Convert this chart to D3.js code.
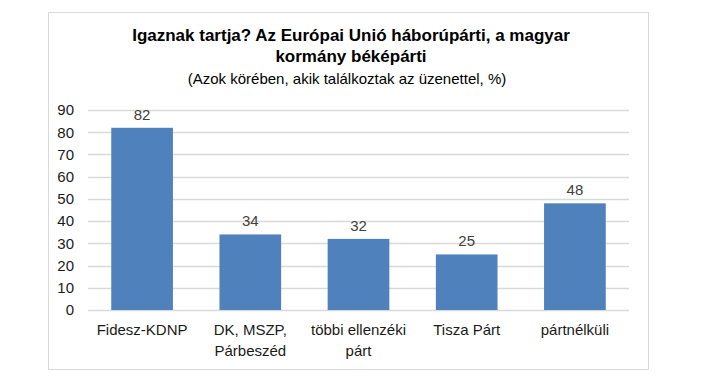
<!DOCTYPE html>
<html>
<head>
<meta charset="utf-8">
<script src="https://cdn.jsdelivr.net/npm/d3@7"></script>
<style>
  body { margin: 0; background: #fff; }
  svg { display: block; font-family: "Liberation Sans", Arial, sans-serif; }
</style>
</head>
<body>
<svg id="chart" width="702" height="377"></svg>
<script>
// adatok
const categories = ["Fidesz-KDNP", "DK, MSZP,\nPárbeszéd", "többi ellenzéki\npárt", "Tisza Párt", "pártnélküli"];
const values = [82, 34, 32, 25, 48];
const yTicks = [0, 10, 20, 30, 40, 50, 60, 70, 80, 90];
const titleLines = ["Igaznak tartja? Az Európai Unió háborúpárti, a magyar", "kormány béképárti"];
const subtitle = "(Azok körében, akik találkoztak az üzenettel, %)";

const svg = d3.select("#chart");
const margin = { top: 110, left: 88, right: 73, bottom: 67 };
const width = 702, height = 377;

// keret
svg.append("rect")
  .attr("x", 48.5).attr("y", 12.5)
  .attr("width", 600).attr("height", 357)
  .attr("fill", "#fff")
  .attr("stroke", "#d9d9d9");

// cím
svg.selectAll(".title")
  .data(titleLines)
  .enter()
  .append("text")
  .attr("class", "title")
  .attr("x", 351)
  .attr("y", (d, i) => 41 + i * 21)
  .attr("text-anchor", "middle")
  .attr("font-size", "17px")
  .attr("font-weight", "bold")
  .attr("fill", "#000")
  .text(d => d);

svg.append("text")
  .attr("x", 347)
  .attr("y", 84)
  .attr("text-anchor", "middle")
  .attr("font-size", "15px")
  .attr("fill", "#000")
  .text(subtitle);

const x = d3.scaleBand()
  .domain(categories)
  .range([margin.left, width - margin.right])
  .paddingInner(0.43)
  .paddingOuter(0.215);

const y = d3.scaleLinear()
  .domain([0, 90])
  .range([height - margin.bottom, margin.top]);

// rácsvonalak
svg.append("g")
  .selectAll("line")
  .data(yTicks)
  .enter()
  .append("line")
  .attr("x1", margin.left)
  .attr("x2", width - margin.right)
  .attr("y1", d => Math.round(y(d)) + 0.5)
  .attr("y2", d => Math.round(y(d)) + 0.5)
  .attr("stroke", "#d9d9d9")
  .attr("stroke-width", 1.5);

// Y tengely
const yAxis = svg.append("g")
  .attr("transform", `translate(${margin.left},0)`)
  .call(d3.axisLeft(y).tickValues(yTicks).tickSize(0).tickPadding(14));
yAxis.select(".domain").remove();
yAxis.selectAll("text")
  .attr("font-size", "15px")
  .attr("font-family", "Liberation Sans, Arial, sans-serif")
  .attr("fill", "#1a1a1a");

// oszlopok
svg.append("g")
  .selectAll("rect")
  .data(values)
  .enter()
  .append("rect")
  .attr("x", (d, i) => x(categories[i]))
  .attr("y", d => y(d))
  .attr("width", x.bandwidth())
  .attr("height", d => y(0) - y(d))
  .attr("fill", "#4f81bd");

// értékcímkék
svg.append("g")
  .selectAll("text")
  .data(values)
  .enter()
  .append("text")
  .attr("x", (d, i) => x(categories[i]) + x.bandwidth() / 2)
  .attr("y", d => y(d) - 8)
  .attr("text-anchor", "middle")
  .attr("font-size", "15px")
  .attr("fill", "#404040")
  .text(d => d);

// X tengely
const xAxis = svg.append("g")
  .attr("transform", `translate(0,${height - margin.bottom})`)
  .call(d3.axisBottom(x).tickSize(0).tickPadding(0));
xAxis.select(".domain").remove();
xAxis.selectAll("text").each(function (d) {
  const t = d3.select(this);
  t.text(null)
    .attr("dy", null)
    .attr("y", null)
    .attr("font-size", "15px")
    .attr("font-family", "Liberation Sans, Arial, sans-serif")
    .attr("fill", "#1a1a1a");
  d.split("\n").forEach((line, i) => {
    t.append("tspan").attr("x", 0).attr("y", 25 + i * 21).text(line);
  });
});
</script>
</body>
</html>
